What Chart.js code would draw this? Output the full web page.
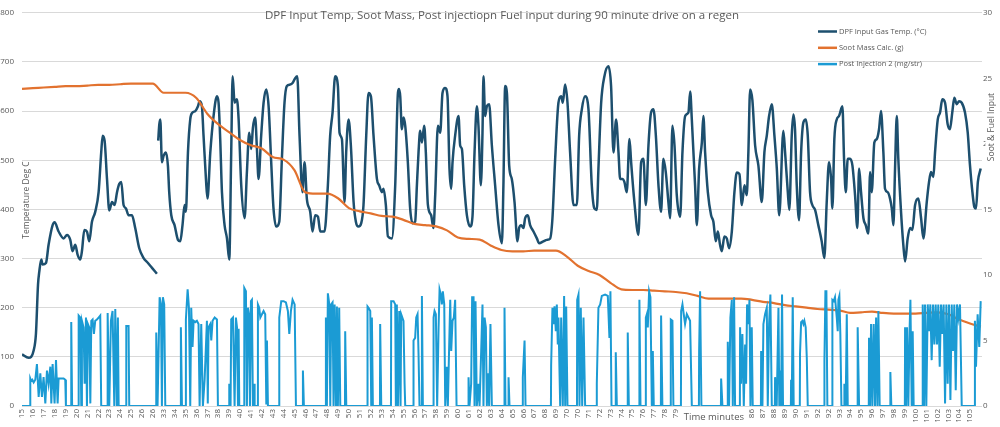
<!DOCTYPE html>
<html>
<head>
<meta charset="utf-8">
<script src="https://cdn.jsdelivr.net/npm/chart.js@4.4.1/dist/chart.umd.min.js"></script>
<style>
  html, body { margin: 0; padding: 0; background: #ffffff; }
  #wrap { width: 1000px; height: 427px; position: relative; }
</style>
</head>
<body>
<div id="wrap"><canvas id="regen-chart"></canvas></div>
<script>
// chart texts
const chartTitle = 'DPF Input Temp, Soot Mass, Post injectiopn Fuel input during 90 minute drive on a regen';
const leftAxisTitle = 'Temperature Deg C';
const rightAxisTitle = 'Soot & Fuel Input';
const xAxisTitle = 'Time minutes';

// x axis labels, one per tick (minutes, as printed by the logger export)
const timeLabels = ['15','16','17','18','19','20','21','22','23','24','25','26','26','33','34','35','36','37','38','39','40','41','42','43','44','45','46','47','48','49','50','51','52','53','54','55','56','57','58','59','60','61','62','63','64','65','66','67','68','69','70','70','71','72','73','74','75','76','77','78','79','80','81','82','83','84','85','86','87','88','89','90','91','92','92','93','94','95','96','97','98','99','100','101','102','103','104','105'];

// DPF input gas temp (deg C), [tick position, value], null = logging gap
const dpfTemp = [
[0,105],[0.61,98],[1.07,113],[1.28,147],[1.47,247],[1.59,274],[1.77,298],[1.89,288],[2.2,291],[2.44,328],[2.81,368],[2.99,374],[3.36,355],[3.82,341],[4.13,348],[4.43,338],[4.64,315],[4.89,328],[5.1,308],[5.35,298],[5.5,315],[5.72,358],[5.96,355],[6.17,335],[6.42,375],[6.72,395],[7.03,435],[7.27,516],[7.4,550],[7.58,540],[7.8,462],[8.01,398],[8.26,415],[8.5,409],[8.72,435],[8.93,452],[9.11,456],[9.32,409],[9.54,402],[9.78,388],[10.09,388],[10.39,362],[10.76,321],[11.16,301],[11.56,291],[11.93,281],[12.38,269],
[12.44,null],
[12.5,540],[12.6,573],[12.69,583],[12.84,496],[12.99,509],[13.21,516],[13.39,489],[13.51,435],[13.7,388],[14.0,368],[14.31,338],[14.52,335],[14.73,368],[14.92,409],[15.04,395],[15.23,516],[15.44,583],[15.65,597],[15.9,600],[16.15,610],[16.3,620],[16.51,610],[16.66,550],[16.88,462],[17.02,422],[17.28,516],[17.58,590],[17.89,630],[18.04,617],[18.19,543],[18.35,435],[18.59,368],[18.81,341],[19.02,298],[19.2,516],[19.33,671],[19.51,617],[19.72,624],[19.88,583],[20.12,449],[20.43,382],[20.64,476],[20.85,556],[21.04,523],[21.19,566],[21.4,587],[21.56,523],[21.71,462],[21.95,550],[22.17,617],[22.41,644],[22.63,610],[22.87,496],[23.08,402],[23.33,365],[23.61,375],[23.85,503],[24.09,617],[24.31,651],[24.61,654],[24.83,657],[25.07,667],[25.26,671],[25.47,550],[25.74,435],[25.93,496],[26.14,422],[26.45,395],[26.66,355],[26.91,388],[27.16,385],[27.37,355],[27.76,355],[28.07,449],[28.28,550],[28.5,597],[28.74,671],[28.99,651],[29.14,556],[29.36,543],[29.6,415],[29.75,516],[29.97,583],[30.18,530],[30.43,415],[30.64,375],[30.88,365],[31.13,372],[31.34,409],[31.59,550],[31.8,637],[32.02,630],[32.26,550],[32.57,462],[32.78,449],[33.03,435],[33.17,442],[33.39,409],[33.58,345],[33.94,341],[34.25,449],[34.5,637],[34.6,645],[34.71,630],[34.86,563],[35.01,587],[35.17,570],[35.41,496],[35.62,402],[35.84,372],[36.08,375],[36.24,449],[36.39,516],[36.54,560],[36.7,536],[36.91,570],[37.06,516],[37.25,409],[37.55,388],[37.76,362],[37.92,429],[38.17,570],[38.38,556],[38.59,637],[38.83,647],[39.05,630],[39.23,483],[39.39,442],[39.51,496],[39.75,550],[40.06,590],[40.21,530],[40.37,523],[40.58,449],[40.83,388],[41.13,365],[41.34,385],[41.53,516],[41.74,610],[41.89,570],[42.11,449],[42.26,556],[42.35,671],[42.5,590],[42.66,610],[42.87,614],[43.12,530],[43.42,449],[43.73,368],[44.04,331],[44.18,449],[44.34,651],[44.5,637],[44.71,489],[44.95,462],[45.2,415],[45.47,335],[45.62,362],[45.81,368],[46.02,362],[46.17,382],[46.42,388],[46.63,368],[46.94,355],[47.25,341],[47.46,331],[47.85,335],[48.17,338],[48.47,341],[48.68,382],[48.93,503],[49.23,617],[49.48,630],[49.63,617],[49.84,654],[50.06,617],[50.3,516],[50.61,409],[50.92,409],[51.13,550],[51.38,604],[51.68,630],[51.98,605],[52.29,449],[52.53,402],[52.75,399],[52.9,483],[53.15,617],[53.45,671],[53.82,691],[54.06,651],[54.28,516],[54.52,583],[54.74,516],[54.89,462],[55.1,462],[55.28,456],[55.5,435],[55.75,543],[55.9,496],[56.2,415],[56.57,348],[56.82,496],[57.03,503],[57.25,409],[57.49,530],[57.73,597],[57.95,604],[58.17,550],[58.41,449],[58.65,395],[58.86,503],[59.08,476],[59.32,415],[59.48,382],[59.69,570],[59.88,530],[60.09,429],[60.4,385],[60.61,516],[60.86,590],[61.16,597],[61.32,640],[61.47,583],[61.77,449],[61.93,368],[62.14,483],[62.39,536],[62.53,590],[62.69,516],[62.94,435],[63.24,388],[63.45,375],[63.67,335],[63.86,355],[64.06,328],[64.22,315],[64.46,345],[64.68,341],[64.89,321],[65.14,355],[65.38,435],[65.6,475],[65.84,472],[66.06,409],[66.3,449],[66.51,429],[66.66,516],[66.82,644],[67.03,622],[67.28,530],[67.58,489],[67.89,415],[68.13,516],[68.35,550],[68.56,590],[68.81,614],[69.05,550],[69.27,483],[69.49,388],[69.87,560],[70.03,516],[70.28,435],[70.42,399],[70.64,550],[70.79,593],[70.94,563],[71.1,449],[71.31,378],[71.5,516],[71.71,577],[71.93,583],[72.11,550],[72.32,435],[72.53,409],[72.78,399],[73.08,368],[73.39,335],[73.63,301],[73.85,415],[74.06,496],[74.25,462],[74.37,402],[74.55,543],[74.77,583],[74.98,590],[75.17,604],[75.29,610],[75.44,503],[75.6,435],[75.78,503],[75.99,503],[76.21,489],[76.45,429],[76.66,362],[76.82,483],[77.0,435],[77.22,382],[77.43,368],[77.67,351],[77.83,476],[77.98,435],[78.22,536],[78.44,543],[78.65,563],[78.83,600],[79.05,516],[79.2,442],[79.45,435],[79.66,422],[79.82,402],[79.97,368],[80.12,483],[80.28,590],[80.42,503],[80.67,395],[80.88,328],[81.04,294],[81.28,341],[81.5,362],[81.71,358],[81.96,409],[82.26,422],[82.51,382],[82.72,341],[83.03,415],[83.24,456],[83.42,476],[83.64,466],[83.79,516],[84.04,583],[84.25,597],[84.46,624],[84.71,617],[84.95,573],[85.16,563],[85.37,597],[85.56,627],[85.78,614],[85.99,620],[86.24,617],[86.54,597],[86.79,556],[87.0,489],[87.22,435],[87.4,405],[87.55,402],[87.72,456],[87.98,483]
];

// soot mass calc (g), one value per tick
const sootMass = [24.2,24.25,24.3,24.35,24.4,24.4,24.45,24.5,24.5,24.55,24.6,24.6,24.6,23.9,23.9,23.9,23.5,22.3,21.5,20.9,20.3,19.9,19.65,19.0,18.8,18.0,16.3,16.2,16.2,15.85,15.1,14.85,14.7,14.5,14.45,14.2,13.9,13.8,13.7,13.4,12.85,12.75,12.7,12.25,11.9,11.8,11.8,11.85,11.85,11.85,11.4,10.7,10.3,10.0,9.4,8.9,8.85,8.85,8.8,8.75,8.7,8.6,8.4,8.2,8.2,8.2,8.2,8.1,7.95,7.85,7.7,7.6,7.5,7.4,7.35,7.3,7.1,7.15,7.2,7.1,7.05,7.05,7.05,7.1,7.15,7.0,6.6,6.3,6.05];

// post injection 2 (mg/str), [tick position, value]
const postInjection = [
[0,0],[0.74,0],[0.76,2.1],[0.85,1.9],[0.95,2.0],[1.07,1.8],[1.22,2.0],[1.37,3.2],[1.53,0.7],[1.68,2.5],[1.83,0.7],[1.98,2.2],[2.14,0.2],[2.29,2.7],[2.44,1.7],[2.6,3.0],[2.69,0.2],[2.81,3.2],[2.99,0.2],[3.12,3.5],[3.27,0.2],[3.36,2.1],[3.51,2.1],[3.82,2.1],[3.97,2.0],[4.03,0],
[4.5,0],[4.52,6.4],[4.6,0],
[5.18,0],[5.2,6.9],[5.35,6.75],[5.44,0],[5.5,6.5],[5.65,6.0],[5.75,1.7],[5.87,6.75],[5.96,0],[6.05,6.25],[6.17,6.0],[6.27,0.2],[6.36,6.5],[6.48,6.6],[6.6,5.5],[6.72,6.5],[6.88,6.6],[7.03,6.75],[7.18,6.9],[7.27,0],
[7.84,0],[7.86,7.1],[8.01,0],[8.16,6.5],[8.31,7.25],[8.47,0],[8.56,7.4],[8.71,0],[8.8,6.75],[8.87,0],
[9.55,0],[9.57,6.1],[9.78,6.1],[9.84,0],
[12.3,0],[12.32,5.6],[12.44,0],[12.63,8.3],[12.75,7.75],[12.84,0],[12.93,8.3],[13.05,7.75],[13.15,0],
[14.56,0],[14.58,6.0],[14.68,0],
[15.02,0],[15.04,6.6],[15.2,8.9],[15.32,7.5],[15.44,0],[15.53,7.5],[15.65,4.5],[15.75,6.5],[15.9,6.4],[16.05,6.5],[16.2,6.25],[16.3,0],[16.45,6.25],[16.6,0],[16.76,2.0],[16.97,6.5],[17.05,0.2],[17.12,6.0],[17.28,6.25],[17.37,5.0],[17.49,6.5],[17.68,6.75],[17.89,6.6],[17.98,0],
[19.0,0],[19.02,1.7],[19.14,0],[19.2,6.6],[19.36,6.75],[19.51,0],[19.63,6.75],[19.73,6.0],[19.82,0],[19.88,5.9],[19.94,0],
[20.38,0],[20.4,9.0],[20.55,8.75],[20.64,0],[20.73,7.5],[20.83,7.0],[20.92,0],[21.01,8.0],[21.1,8.1],[21.19,0],[21.32,1.7],[21.35,0],
[21.63,0],[21.65,7.75],[21.77,7.5],[21.87,6.75],[22.02,7.0],[22.17,7.25],[22.32,7.0],[22.42,0.2],[22.48,5.0],[22.57,0],
[23.59,0],[23.61,6.75],[23.79,8.0],[24.01,8.0],[24.22,7.9],[24.4,7.25],[24.53,5.5],[24.68,7.25],[24.83,8.1],[25.02,7.75],[25.14,0],
[25.76,0],[25.78,2.7],[25.87,0],
[27.87,0],[27.89,6.75],[27.98,0],[28.07,8.6],[28.2,7.75],[28.29,0],[28.38,7.75],[28.5,7.9],[28.59,0],[28.69,7.75],[28.81,0],[28.9,7.6],[28.99,0],[29.11,7.5],[29.21,0],
[29.64,0],[29.66,5.7],[29.76,0],
[31.69,0],[31.71,7.6],[31.8,7.5],[31.96,7.25],[32.05,0],[32.11,6.75],[32.2,0],
[32.85,0],[32.87,6.25],[32.97,0],
[33.86,0],[33.88,8.0],[34.1,8.0],[34.25,7.75],[34.31,0],[34.4,7.75],[34.5,0],[34.62,7.25],[34.74,0],[34.8,7.0],[34.86,7.0],[35.01,6.5],[35.11,1.7],[35.17,0],
[35.91,0],[35.93,5.0],[36.08,5.2],[36.18,6.75],[36.3,7.0],[36.39,4.0],[36.48,0],[36.68,0],[36.7,8.4],[36.79,0],
[37.75,0],[37.77,6.75],[37.86,7.25],[37.98,7.0],[38.1,0],[38.23,6.0],[38.32,8.9],[38.44,8.5],[38.53,7.75],[38.62,8.75],[38.75,7.75],[38.84,0],[38.99,3.0],[39.08,0],[39.2,4.5],[39.3,8.1],[39.39,4.2],[39.51,6.5],[39.63,6.75],[39.75,8.1],[39.88,0],
[40.96,0],[40.98,2.2],[41.07,0],[41.22,1.7],[41.31,8.3],[41.44,8.3],[41.53,0],[41.62,8.0],[41.74,0],[41.9,1.7],[41.99,0],[42.14,4.2],[42.26,7.75],[42.35,0],[42.45,6.75],[42.57,6.0],[42.66,0],[42.75,2.5],[42.87,0],[42.99,6.25],[43.12,0],
[44.26,0],[44.28,7.5],[44.37,0],[44.63,0],[44.65,2.2],[44.74,0],
[45.94,0],[45.96,2.2],[46.12,5.0],[46.21,0],
[48.54,0],[48.56,3.1],[48.68,7.5],[48.78,6.25],[48.87,7.6],[48.99,5.7],[49.08,7.75],[49.17,4.7],[49.23,6.75],[49.39,0],[49.48,6.75],[49.63,0],[49.75,8.4],[49.85,0],[49.94,7.6],[50.06,0],
[50.93,0],[50.95,8.1],[51.07,8.5],[51.16,0],[51.28,7.5],[51.41,0],[51.53,6.75],[51.68,0],
[52.73,0],[52.75,1.7],[52.9,7.5],[53.06,7.75],[53.21,8.4],[53.51,8.5],[53.76,8.4],[53.91,5.2],[54.0,8.75],[54.1,0],
[54.47,0],[54.49,4.1],[54.59,0],
[55.57,0],[55.59,5.6],[55.69,0],
[56.64,0],[56.66,8.1],[56.76,0],
[57.23,0],[57.25,6.75],[57.34,7.0],[57.43,6.0],[57.55,8.75],[57.67,8.3],[57.8,0],[57.89,4.2],[57.98,0],
[58.63,0],[58.65,6.9],[58.77,0],
[59.52,0],[59.54,6.6],[59.69,6.5],[59.78,0],
[60.47,0],[60.49,7.25],[60.61,7.75],[60.73,7.0],[60.85,6.25],[61.01,7.0],[61.16,6.75],[61.31,6.5],[61.47,0],
[62.12,0],[62.14,4.2],[62.23,8.75],[62.35,0],
[64.14,0],[64.16,2.1],[64.28,0],
[64.75,0],[64.77,4.9],[64.89,0],[65.01,6.75],[65.14,8.1],[65.23,0],[65.35,8.3],[65.44,0],
[65.88,0],[65.9,6.0],[65.99,1.7],[66.11,5.5],[66.24,0],[66.36,4.7],[66.45,1.7],[66.54,7.75],[66.66,6.25],[66.76,8.1],[66.85,0],[66.97,6.0],[67.06,0],
[67.81,0],[67.83,4.2],[67.95,0],[68.04,6.25],[68.19,7.0],[68.35,7.5],[68.44,0],[68.56,6.25],[68.68,8.5],[68.81,0],[69.09,0],[69.11,2.2],[69.26,0],[69.42,7.5],[69.5,0],[69.6,2.7],[69.66,0],[69.75,8.5],[69.84,0],
[70.56,0],[70.58,2.0],[70.64,0],[70.73,8.3],[70.82,0],
[71.38,0],[71.4,4.0],[71.5,6.4],[71.62,6.5],[71.71,6.25],[71.8,6.5],[71.92,6.0],[72.02,3.7],[72.11,0],
[73.62,0],[73.64,3.5],[73.73,8.75],[73.82,8.75],[73.91,0],
[74.35,0],[74.37,8.1],[74.49,8.0],[74.61,8.3],[74.77,6.75],[74.86,5.7],[74.92,8.1],[75.01,8.4],[75.1,5.5],[75.2,0],
[75.45,0],[75.47,1.7],[75.59,0],[75.69,7.0],[75.78,0],
[76.67,0],[76.69,6.0],[76.82,0],
[77.71,0],[77.73,5.2],[77.83,0],[77.92,6.25],[78.04,0],[78.16,6.25],[78.28,0],[78.38,6.75],[78.5,0],[78.59,7.25],[78.71,0],
[79.67,0],[79.69,2.6],[79.78,0],
[81.02,0],[81.04,6.0],[81.13,0],[81.22,6.0],[81.34,0],[81.46,6.0],[81.53,8.1],[81.65,0],[81.74,5.7],[81.83,0],
[82.64,0],[82.66,7.75],[82.78,0],[82.87,7.75],[82.99,0],[83.12,7.75],[83.24,5.7],[83.36,7.75],[83.48,3.5],[83.61,7.75],[83.73,4.7],[83.85,7.75],[83.97,4.7],[84.09,7.75],[84.22,3.0],[84.34,7.75],[84.46,5.5],[84.58,7.75],[84.71,0.2],[84.83,7.75],[84.95,1.7],[85.07,7.75],[85.2,0.45],[85.32,7.75],[85.44,4.2],[85.56,7.75],[85.69,1.2],[85.81,7.75],[85.93,6.75],[86.08,7.75],[86.24,0],
[87.4,0],[87.45,6.5],[87.55,3.0],[87.7,7.0],[87.85,4.5],[87.98,8.0]
];

const seriesNames = ['DPF Input Gas Temp. (\u00B0C)', 'Soot Mass Calc. (g)', 'Post Injection 2 (mg/str)'];
const seriesColors = ['#1d4f6e', '#e2722f', '#1b9bd4'];

const FONT = '"Open Sans", "Noto Sans", sans-serif';
const GREY = '#595959';

// rotated text with a white box behind it (excel axis titles hide what is under them)
function rotatedLabel(ctx, text, x, y, boxed) {
  ctx.save();
  ctx.translate(x, y);
  ctx.rotate(-Math.PI / 2);
  if (boxed) {
    const w = ctx.measureText(text).width;
    ctx.fillStyle = '#ffffff';
    ctx.fillRect(-w / 2 - 3, -6, w + 6, 12);
  }
  ctx.fillStyle = GREY;
  ctx.fillText(text, 0, 0);
  ctx.restore();
}

// draws title, axis titles and legend on top of the plot like the excel sheet does
const overlayText = {
  id: 'overlayText',
  afterDraw(chart) {
    const { ctx, chartArea, scales } = chart;
    ctx.save();
    ctx.fillStyle = GREY;
    ctx.textBaseline = 'middle';

    // title
    ctx.font = '11.5px ' + FONT;
    ctx.textAlign = 'center';
    ctx.fillText(chartTitle, (chartArea.left + chartArea.right) / 2, 16);

    // axis titles
    ctx.font = '8.5px ' + FONT;
    rotatedLabel(ctx, leftAxisTitle, 27, 200, false);
    rotatedLabel(ctx, rightAxisTitle, 991.5, 127, true);

    // x axis title sits over some tick labels
    const cx = scales.x.getPixelForValue(63.5);
    ctx.font = '9.5px ' + FONT;
    const w = ctx.measureText(xAxisTitle).width;
    ctx.fillStyle = '#ffffff';
    ctx.fillRect(cx - w / 2 - 4, chartArea.bottom + 1, w + 8, 20);
    ctx.fillStyle = GREY;
    ctx.fillText(xAxisTitle, cx, chartArea.bottom + 11);

    // legend
    ctx.font = '7.5px ' + FONT;
    ctx.textAlign = 'left';
    chart.data.datasets.forEach((ds, i) => {
      const y = 31.5 + i * 16.3;
      ctx.strokeStyle = ds.borderColor;
      ctx.lineWidth = 2.5;
      ctx.beginPath();
      ctx.moveTo(818, y);
      ctx.lineTo(837, y);
      ctx.stroke();
      ctx.fillStyle = GREY;
      ctx.fillText(ds.label, 839, y);
    });
    ctx.restore();
  }
};

const toXY = arr => arr.map(p => ({ x: p[0], y: p[1] }));

new Chart(document.getElementById('regen-chart'), {
  type: 'line',
  data: {
    datasets: [
      {
        label: seriesNames[0],
        data: toXY(dpfTemp),
        yAxisID: 'y',
        borderColor: seriesColors[0],
        backgroundColor: seriesColors[0],
        borderWidth: 2.5,
        pointRadius: 0,
        cubicInterpolationMode: 'monotone',
        spanGaps: false,
        order: 3
      },
      {
        label: seriesNames[1],
        data: sootMass.map((v, i) => ({ x: i, y: v })),
        yAxisID: 'y1',
        borderColor: seriesColors[1],
        backgroundColor: seriesColors[1],
        borderWidth: 2.2,
        pointRadius: 0,
        cubicInterpolationMode: 'monotone',
        order: 2
      },
      {
        label: seriesNames[2],
        data: toXY(postInjection),
        yAxisID: 'y1',
        borderColor: seriesColors[2],
        backgroundColor: seriesColors[2],
        borderWidth: 2,
        pointRadius: 0,
        tension: 0,
        order: 1
      }
    ]
  },
  options: {
    responsive: true,
    maintainAspectRatio: false,
    animation: false,
    devicePixelRatio: 1,
    layout: { autoPadding: false, padding: { top: 9, left: 0, right: 0, bottom: 0 } },
    plugins: {
      legend: { display: false },
      title: { display: false },
      tooltip: { enabled: false }
    },
    scales: {
      x: {
        type: 'linear',
        min: 0,
        max: 88.1,
        afterFit: s => { s.height = 21; },
        grid: { display: false, drawTicks: false },
        border: { display: false },
        ticks: {
          stepSize: 1,
          autoSkip: false,
          maxRotation: 90,
          minRotation: 90,
          padding: 3,
          color: GREY,
          font: { family: FONT, size: 8 },
          callback: v => Number.isInteger(v) && timeLabels[v] !== undefined ? timeLabels[v] : ''
        }
      },
      y: {
        position: 'left',
        min: 0,
        max: 800,
        afterFit: s => { s.width = 22; },
        grid: { color: '#d9d9d9', lineWidth: 1, drawTicks: false },
        border: { display: false },
        ticks: { stepSize: 100, padding: 8, color: GREY, font: { family: FONT, size: 8 } }
      },
      y1: {
        position: 'right',
        min: 0,
        max: 30,
        afterFit: s => { s.width = 18; },
        grid: { drawOnChartArea: false, drawTicks: false },
        border: { display: false },
        ticks: { stepSize: 5, padding: 1, color: GREY, font: { family: FONT, size: 8 } }
      }
    }
  },
  plugins: [overlayText]
});
</script>
</body>
</html>
